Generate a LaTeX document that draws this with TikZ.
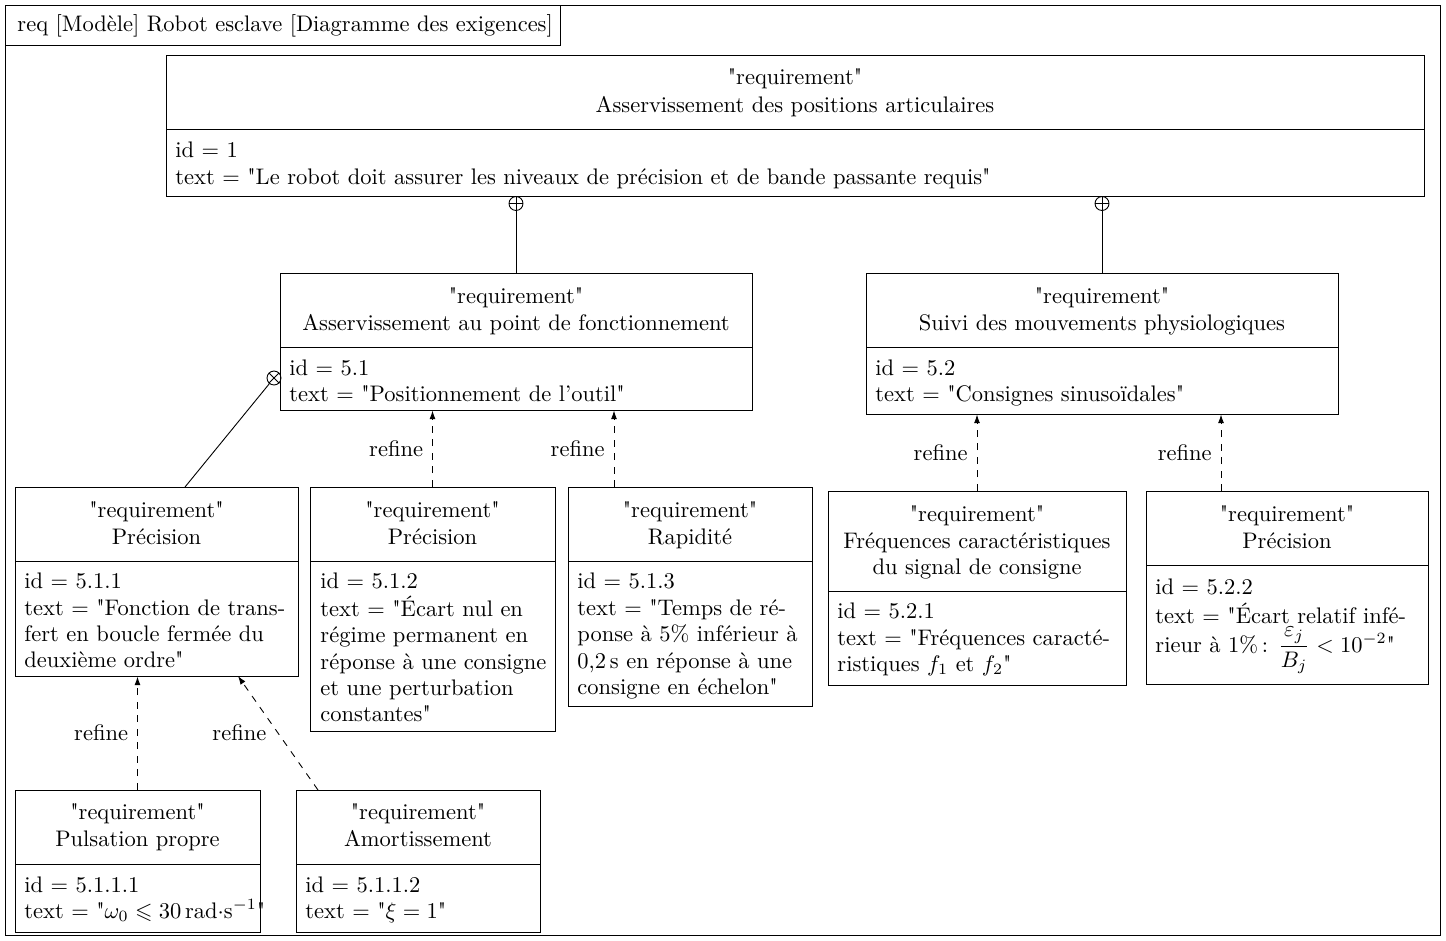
\documentclass[tikz,border=0pt]{standalone}
\usepackage{amsmath,amssymb}
\usepackage{fontspec}
\setmainfont{Latin Modern Roman}[Ligatures=TeXOff]
\usetikzlibrary{arrows.meta,fit}
\newcommand\txw[4]{\node[anchor=base west] (#1) at (#2,#3) {#4};}
\newcommand\txc[4]{\node[anchor=base] (#1) at (#2,#3) {#4};}
\begin{document}
\begin{tikzpicture}[x=0.44444pt,y=-0.44444pt,
  every node/.style={inner sep=0pt},
  box/.style={draw, inner sep=0pt, fit={#1}},
  refine/.style={draw, dashed, -{Latex[length=3.8pt,width=2.6pt]}},
  rlab/.style={left=4pt},
  contain/.style={draw, circle, minimum size=6.2pt, inner sep=0pt}]
\useasboundingbox (0,0) rectangle (1446,940);

% frame and tab
\node[box={(5,5)(1440,935)}] (frame) {};
\node[box={(5,5)(560,45)}] (tab) {};
\txw{tabt}{17}{31}{req [Modèle] Robot esclave [Diagramme des exigences]}

% requirement 1
\node[box={(166,55)(1424,196)}] (r1) {};
\draw (166,129) -- (1424,129);
\txc{r1a}{795}{84}{"requirement"}
\txc{r1b}{795}{112}{Asservissement des positions articulaires}
\txw{r1c}{175}{157}{id = 1}
\txw{r1d}{175}{184}{text = "Le robot doit assurer les niveaux de précision et de bande passante requis"}

% requirement 5.1
\node[box={(280,273)(752,410)}] (r51) {};
\draw (280,347) -- (752,347);
\txc{r51a}{516}{303}{"requirement"}
\txc{r51b}{516}{330}{Asservissement au point de fonctionnement}
\txw{r51c}{289}{375}{id = 5.1}
\txw{r51d}{289}{401}{text = "Positionnement de l’outil"}

% requirement 5.2
\node[box={(866,273)(1338,414)}] (r52) {};
\draw (866,347) -- (1338,347);
\txc{r52a}{1102}{303}{"requirement"}
\txc{r52b}{1102}{330}{Suivi des mouvements physiologiques}
\txw{r52c}{875}{375}{id = 5.2}
\txw{r52d}{875}{401}{text = "Consignes sinusoïdales"}

% requirement 5.1.1
\node[box={(15,487)(298,676)}] (r511) {};
\draw (15,561) -- (298,561);
\txc{r511a}{156.5}{517}{"requirement"}
\txc{r511b}{156.5}{544}{Précision}
\txw{r511c}{24}{588}{id = 5.1.1}
\txw{r511d}{24}{615}{text = "Fonction de trans-}
\txw{r511e}{24}{641}{fert en boucle fermée du}
\txw{r511f}{24}{667}{deuxième ordre"}

% requirement 5.1.2
\node[box={(310,487)(555,731)}] (r512) {};
\draw (310,561) -- (555,561);
\txc{r512a}{432.5}{517}{"requirement"}
\txc{r512b}{432.5}{544}{Précision}
\txw{r512c}{320}{588}{id = 5.1.2}
\txw{r512d}{320}{616}{text = "Écart nul en}
\txw{r512e}{320}{642}{régime permanent en}
\txw{r512f}{320}{669}{réponse à une consigne}
\txw{r512g}{320}{695}{et une perturbation}
\txw{r512h}{320}{721}{constantes"}

% requirement 5.1.3
\node[box={(568,487)(812,706)}] (r513) {};
\draw (568,561) -- (812,561);
\txc{r513a}{690}{517}{"requirement"}
\txc{r513b}{690}{544}{Rapidité}
\txw{r513c}{577}{588}{id = 5.1.3}
\txw{r513d}{577}{615}{text = "Temps de ré-}
\txw{r513e}{577}{641}{ponse à 5\% inférieur à}
\txw{r513f}{577}{668}{0,2\,s en réponse à une}
\txw{r513g}{577}{694}{consigne en échelon"}

% requirement 5.2.1
\node[box={(828,491)(1126,685)}] (r521) {};
\draw (828,591) -- (1126,591);
\txc{r521a}{977}{521}{"requirement"}
\txc{r521b}{977}{548}{Fréquences caractéristiques}
\txc{r521c}{977}{574}{du signal de consigne}
\txw{r521d}{837}{618}{id = 5.2.1}
\txw{r521e}{837}{645}{text = "Fréquences caracté-}
\txw{r521f}{837}{671}{ristiques $f_1$ et $f_2$"}

% requirement 5.2.2
\node[box={(1146,491)(1428,684)}] (r522) {};
\draw (1146,565) -- (1428,565);
\txc{r522a}{1287}{521}{"requirement"}
\txc{r522b}{1287}{548}{Précision}
\txw{r522c}{1155}{594}{id = 5.2.2}
\txw{r522d}{1155}{623}{text = "Écart relatif infé-}
\txw{r522e}{1155}{652}{rieur à 1\%\,: $\dfrac{\varepsilon_j}{B_j} < 10^{-2}$"}

% requirement 5.1.1.1
\node[box={(15,790)(260,932)}] (r5111) {};
\draw (15,864) -- (260,864);
\txc{r5111a}{137.5}{819}{"requirement"}
\txc{r5111b}{137.5}{846}{Pulsation propre}
\txw{r5111c}{24}{892}{id = 5.1.1.1}
\txw{r5111d}{24}{918}{text = "$\omega_0 \leqslant 30\,\mathrm{rad{\cdot}s^{-1}}$"}

% requirement 5.1.1.2
\node[box={(296,790)(540,932)}] (r5112) {};
\draw (296,864) -- (540,864);
\txc{r5112a}{418}{819}{"requirement"}
\txc{r5112b}{418}{846}{Amortissement}
\txw{r5112c}{305}{892}{id = 5.1.1.2}
\txw{r5112d}{305}{918}{text = "$\xi = 1$"}

% containment
\node[contain] (p1) at (516,203.5) {};
\draw (p1.north) -- (p1.south) (p1.west) -- (p1.east);
\draw (p1.south) -- (r51.north);
\node[contain] (p2) at (1102,203.5) {};
\draw (p2.north) -- (p2.south) (p2.west) -- (p2.east);
\draw (p2.south) -- (r52.north);
\node[contain] (x1) at (274,378) {};
\draw (x1.north west) -- (x1.south east) (x1.north east) -- (x1.south west);
\coordinate (c511) at (185,487);
\draw (x1) -- (c511);

% refine
\draw[refine] (r512.north) -- node[rlab] {refine} (r512.north |- r51.south);
\coordinate (c513) at (614,487);
\draw[refine] (c513) -- node[rlab] {refine} (c513 |- r51.south);
\draw[refine] (r521.north) -- node[rlab] {refine} (r521.north |- r52.south);
\coordinate (c522) at (1221,491);
\draw[refine] (c522) -- node[rlab] {refine} (c522 |- r52.south);
\draw[refine] (r5111.north) -- node[rlab] {refine} (r5111.north |- r511.south);
\coordinate (c5112) at (318,790);
\coordinate (c511b) at (238,676);
\draw[refine] (c5112) -- node[left=5pt] {refine} (c511b);
\end{tikzpicture}
\end{document}
